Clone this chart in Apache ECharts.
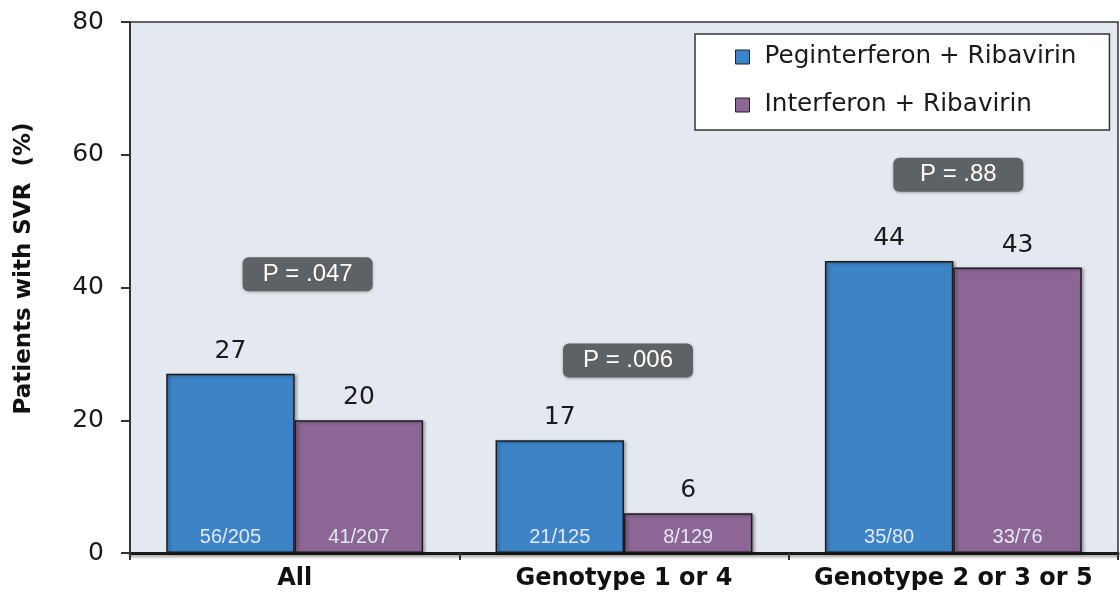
<!DOCTYPE html>
<html>
<head>
<meta charset="utf-8">
<script src="https://cdn.jsdelivr.net/npm/echarts@6/dist/echarts.min.js"></script>
<style>
  html, body { margin: 0; padding: 0; background: #fff; }
  #chart { width: 1120px; height: 594px; }
</style>
</head>
<body>
<div id="chart"></div>
<script>
// data
const categories = ['All', 'Genotype 1 or 4', 'Genotype 2 or 3 or 5'];
const pegValues = [27, 17, 44];
const ifnValues = [20, 6, 43];
const pegCounts = ['56/205', '21/125', '35/80'];
const ifnCounts = ['41/207', '8/129', '33/76'];
const pLabels = ['P = .047', 'P = .006', 'P = .88'];
const pHeights = [42, 29, 57];

const WIDE = '"DejaVu Sans", sans-serif';
const NARROW = '"Liberation Sans", Arial, sans-serif';

const chart = echarts.init(document.getElementById('chart'));

// main bars, stacked on top of a zero-height carrier that holds the count label
function barSeries(name, stack, values, color) {
  return {
    name: name,
    type: 'bar',
    stack: stack,
    data: values,
    barGap: '0%',
    barCategoryGap: '22%',
    itemStyle: {
      color: color,
      borderColor: '#1c1c1c',
      borderWidth: 1.5,
      shadowColor: 'rgba(0,0,0,0.35)',
      shadowBlur: 3,
      shadowOffsetX: 2,
      shadowOffsetY: 1
    },
    label: {
      show: true,
      position: 'top',
      distance: 10,
      fontFamily: WIDE,
      fontSize: 25,
      color: '#1a1a1a'
    }
  };
}

function countSeries(name, stack, counts) {
  return {
    name: name,
    type: 'bar',
    stack: stack,
    data: counts.map(c => ({ value: 0, label: { formatter: c } })),
    barGap: '0%',
    barCategoryGap: '22%',
    z: 5,
    silent: true,
    itemStyle: { color: 'rgba(0,0,0,0)', borderWidth: 0 },
    label: {
      show: true,
      position: 'insideBottom',
      distance: 6,
      fontFamily: NARROW,
      fontSize: 20,
      color: '#e2e8f3'
    }
  };
}

const pBoxPath = 'path://M6,0H124A6,6 0 0 1 130,6V28A6,6 0 0 1 124,34H6A6,6 0 0 1 0,28V6A6,6 0 0 1 6,0Z';
const pOffsets = [13, 4, 5];

const option = {
  animation: false,
  grid: {
    left: 130,
    right: 2,
    top: 22,
    bottom: 41,
    show: true,
    backgroundColor: '#e4e8f0',
    borderColor: '#333',
    borderWidth: 1.5
  },
  legend: {
    orient: 'vertical',
    left: 695,
    top: 34,
    data: ['Peginterferon + Ribavirin', 'Interferon + Ribavirin'],
    backgroundColor: '#ffffff',
    borderColor: '#333',
    borderWidth: 1.5,
    padding: [10, 33, 12, 40],
    itemGap: 22,
    itemWidth: 14,
    itemHeight: 14,
    icon: 'rect',
    itemStyle: { borderColor: '#222', borderWidth: 1 },
    textStyle: { fontFamily: WIDE, fontSize: 24.7, lineHeight: 26, color: '#1a1a1a', padding: [0, 0, 0, 10] }
  },
  xAxis: {
    type: 'category',
    data: categories,
    axisLine: { lineStyle: { color: '#1a1a1a', width: 3, shadowColor: 'rgba(0,0,0,0.4)', shadowBlur: 3, shadowOffsetY: 2 } },
    axisTick: { show: true, length: 7, lineStyle: { color: '#333', width: 2 } },
    axisLabel: {
      interval: 0,
      margin: 14,
      fontFamily: WIDE,
      fontSize: 24,
      fontWeight: 'bold',
      color: '#111'
    }
  },
  yAxis: {
    type: 'value',
    min: 0,
    max: 80,
    interval: 20,
    name: 'Patients with SVR  (%)',
    nameLocation: 'middle',
    nameGap: 94,
    nameTextStyle: { fontFamily: WIDE, fontSize: 23, fontWeight: 'bold', color: '#111', padding: [0, 0, 0, 38] },
    axisLine: { show: true, lineStyle: { color: '#333', width: 2 } },
    axisTick: { show: true, length: 9, lineStyle: { color: '#333', width: 2 } },
    axisLabel: { margin: 26, fontFamily: WIDE, fontSize: 25, color: '#1a1a1a' },
    splitLine: { show: false }
  },
  series: [
    countSeries('pegCounts', 'peg', pegCounts),
    countSeries('ifnCounts', 'ifn', ifnCounts),
    barSeries('Peginterferon + Ribavirin', 'peg', pegValues, '#3d84c6'),
    barSeries('Interferon + Ribavirin', 'ifn', ifnValues, '#8c6694'),
    {
      name: 'pValues',
      type: 'scatter',
      z: 6,
      silent: true,
      symbol: pBoxPath,
      symbolSize: [130, 34],
      itemStyle: {
        color: '#5f6265',
        opacity: 1,
        shadowColor: 'rgba(0,0,0,0.3)',
        shadowBlur: 3,
        shadowOffsetY: 1
      },
      label: {
        show: true,
        position: 'inside',
        fontFamily: NARROW,
        fontSize: 24,
        color: '#ffffff'
      },
      data: categories.map((c, i) => ({
        value: [c, pHeights[i]],
        symbolOffset: [pOffsets[i], 0],
        label: { formatter: pLabels[i] }
      }))
    }
  ]
};

chart.setOption(option);
</script>
</body>
</html>
